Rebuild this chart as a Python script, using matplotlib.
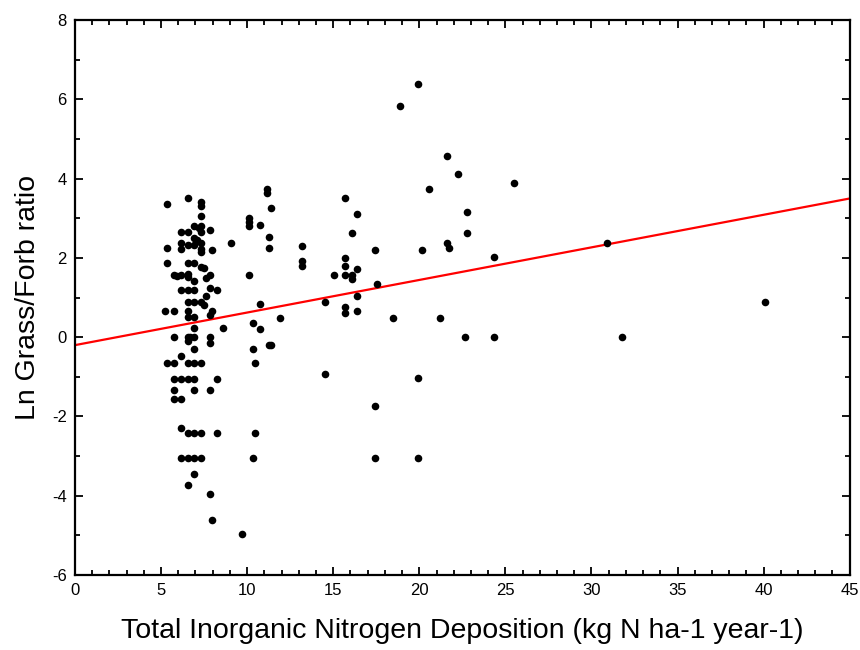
import matplotlib.pyplot as plt
from matplotlib.ticker import MultipleLocator

plt.rcParams['font.family'] = ['Liberation Sans', 'DejaVu Sans']
plt.rcParams['axes.unicode_minus'] = False

# nitrogen deposition (x) and ln grass/forb ratio (y)
dep = [
    6.55, 7.33, 7.33, 5.37, 7.33, 6.94, 7.33, 7.2, 7.85,
    6.14, 6.55, 7.33, 6.94, 7.1,
    6.14, 6.55, 6.94, 7.33, 9.05,
    5.37, 6.14, 7.33, 7.98, 7.3,
    5.37, 6.55, 6.94, 7.33, 7.5,
    5.76, 6.14, 6.55, 6.55, 7.85, 7.6, 5.9, 6.94,
    6.14, 6.55, 6.94, 7.85, 8.24, 7.6,
    6.55, 6.94, 7.33, 7.5,
    5.23, 5.76, 6.55, 7.98, 7.85,
    6.55, 6.94, 6.94, 8.62,
    5.76, 6.55, 6.94, 7.85, 6.7,
    6.55, 6.94, 7.85, 6.14,
    5.37, 5.76, 6.55, 6.94, 7.33,
    5.76, 6.14, 6.55, 6.94, 8.24,
    5.76, 6.94, 7.85, 5.76, 6.14,
    6.14, 6.55, 6.94, 7.33, 8.24,
    6.14, 6.55, 6.94, 7.33,
    6.94, 6.55, 7.85, 7.98, 9.69,
    11.14, 11.14, 11.4, 10.08, 10.08, 10.08, 10.73, 11.26, 11.26,
    10.08, 10.74, 10.35, 10.74, 11.92, 11.26, 11.4, 10.35, 10.47,
    10.47, 10.33, 14.53,
    13.2, 13.2, 13.2, 14.53, 15.06,
    15.7, 16.36, 16.1, 15.7, 15.7, 15.7, 16.1, 16.1, 16.36,
    16.36, 15.7, 15.7, 16.36, 17.4, 17.54, 18.45,
    19.9, 17.4, 17.4, 19.9,
    19.9, 18.86, 21.6, 22.25, 25.52, 20.54, 22.77, 22.77,
    21.6, 21.74, 20.15, 24.36, 21.2, 22.66, 24.36,
    30.9, 31.8, 40.06,
]
ln_ratio = [
    3.52, 3.42, 3.3, 3.35, 3.07, 2.8, 2.8, 2.75, 2.7,
    2.66, 2.66, 2.66, 2.5, 2.45,
    2.37, 2.32, 2.32, 2.37, 2.37,
    2.25, 2.22, 2.22, 2.2, 2.15,
    1.88, 1.88, 1.88, 1.78, 1.75,
    1.57, 1.57, 1.6, 1.52, 1.57, 1.5, 1.55, 1.42,
    1.19, 1.19, 1.19, 1.25, 1.19, 1.05,
    0.89, 0.89, 0.89, 0.82,
    0.66, 0.66, 0.66, 0.66, 0.55,
    0.5, 0.5, 0.22, 0.22,
    0.0, 0.0, 0.0, 0.0, 0.0,
    -0.1, -0.3, -0.15, -0.47,
    -0.65, -0.65, -0.65, -0.65, -0.65,
    -1.05, -1.05, -1.05, -1.05, -1.05,
    -1.34, -1.34, -1.34, -1.57, -1.57,
    -2.29, -2.41, -2.41, -2.41, -2.41,
    -3.04, -3.04, -3.04, -3.04,
    -3.44, -3.72, -3.95, -4.62, -4.96,
    3.73, 3.64, 3.27, 3.0, 2.9, 2.81, 2.83, 2.53, 2.25,
    1.57, 0.83, 0.37, 0.2, 0.49, -0.19, -0.19, -0.31, -0.65,
    -2.41, -3.04, -0.93,
    2.31, 1.92, 1.79, 0.88, 1.57,
    3.5, 3.1, 2.64, 2.01, 1.79, 1.57, 1.57, 1.46, 1.73,
    1.04, 0.77, 0.6, 0.66, 2.2, 1.34, 0.49,
    -1.04, -1.73, -3.04, -3.04,
    6.39, 5.83, 4.58, 4.12, 3.9, 3.73, 3.16, 2.64,
    2.37, 2.24, 2.19, 2.03, 0.49, 0.0, 0.0,
    2.37, 0.0, 0.88,
]

# fitted regression line end points
fit_x = [0, 45]
fit_y = [-0.2, 3.5]

fig = plt.figure(figsize=(8.6, 6.5), dpi=100)
ax = fig.add_axes([0.0872, 0.1154, 0.9008, 0.8536])

ax.scatter(dep, ln_ratio, s=30, color='black', zorder=3, linewidths=0)
ax.plot(fit_x, fit_y, color='#ff0000', lw=1.6, zorder=2)

ax.set_xlim(0, 45)
ax.set_ylim(-6, 8)
ax.xaxis.set_major_locator(MultipleLocator(5))
ax.xaxis.set_minor_locator(MultipleLocator(1))
ax.yaxis.set_major_locator(MultipleLocator(2))
ax.yaxis.set_minor_locator(MultipleLocator(1))
ax.tick_params(which='both', direction='in', top=True, right=True,
               width=1.3, labelsize=12, pad=6)
ax.tick_params(which='major', length=6)
ax.tick_params(which='minor', length=3.5)
for sp in ax.spines.values():
    sp.set_linewidth(1.6)

ax.set_xlabel('Total Inorganic Nitrogen Deposition (kg N ha-1 year-1)', fontsize=20.5, labelpad=14)
ax.set_ylabel('Ln Grass/Forb ratio', fontsize=20.5, labelpad=8)

fig.savefig('out.png', dpi=100)
